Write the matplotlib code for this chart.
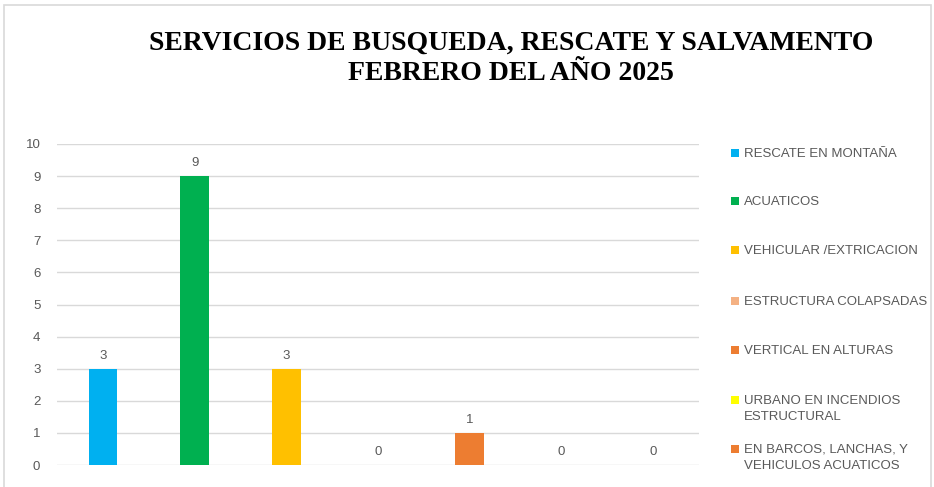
import matplotlib.pyplot as plt
from matplotlib.patches import Rectangle

# ---------------------------------------------------------------------------
# Data
# ---------------------------------------------------------------------------

categories = [
    "RESCATE EN MONTAÑA",
    "ACUATICOS",
    "VEHICULAR /EXTRICACION",
    "ESTRUCTURA COLAPSADAS",
    "VERTICAL EN ALTURAS",
    "URBANO EN INCENDIOS\nESTRUCTURAL",
    "EN BARCOS, LANCHAS, Y\nVEHICULOS ACUATICOS",
]
values = [3, 9, 3, 0, 1, 0, 0]
colors = ["#00B0F0", "#00B050", "#FFC000", "#F4B183", "#ED7D31", "#FFFF00", "#ED7D31"]
yticks = list(range(0, 11))

title = "SERVICIOS DE BUSQUEDA, RESCATE Y SALVAMENTO\nFEBRERO DEL AÑO 2025"

TEXT_GRAY = "#595959"
GRID_GRAY = "#D9D9D9"
W, H = 934, 487

# ---------------------------------------------------------------------------
# Figure
# ---------------------------------------------------------------------------

fig = plt.figure(figsize=(W / 100, H / 100), dpi=100)
fig.patch.set_facecolor("white")

# light chart-area frame
fig.patches.append(
    Rectangle((4 / W, -0.01), 927 / W, 1 - 5 / H + 0.01, transform=fig.transFigure,
              facecolor="none", edgecolor=GRID_GRAY, linewidth=1.2)
)

ax = fig.add_axes([57 / W, 1 - 465 / H, 642 / W, 321 / H])
x = range(len(categories))
bars = ax.bar(x, values, width=0.31, color=colors, zorder=3)

for xi, v in zip(x, values):
    ax.text(xi, v + 0.22, str(v), ha="center", va="bottom",
            fontsize=9.5, color=TEXT_GRAY, family="Liberation Sans")

ax.set_xlim(-0.5, len(categories) - 0.5)
ax.set_ylim(0, 10)
ax.set_yticks(yticks)
ax.set_xticks([])
ax.yaxis.grid(True, color=GRID_GRAY, linewidth=1, zorder=0)
ax.tick_params(axis="y", length=0, pad=12, labelsize=9.5, labelcolor=TEXT_GRAY)
for lbl in ax.get_yticklabels():
    lbl.set_family("Liberation Sans")
for s in ax.spines.values():
    s.set_visible(False)

fig.text(511 / W, 1 - 58 / H, title, ha="center", va="center", fontsize=20,
         fontweight="bold", family="Liberation Serif", linespacing=1.27)

# legend drawn by hand to match the spacing of the original
leg_y = [153, 201, 250, 301, 350, 400, 449]
for yy, c, lab in zip(leg_y, colors, categories):
    fig.patches.append(
        Rectangle((731 / W, 1 - (yy + 4) / H), 8 / W, 8 / H, transform=fig.transFigure,
                  facecolor=c, edgecolor="none")
    )
    fig.text(744 / W, 1 - (yy - 5) / H, lab, ha="left", va="top", fontsize=9.5,
             color=TEXT_GRAY, family="Liberation Sans", linespacing=1.45)

fig.savefig("out.png", dpi=100)
